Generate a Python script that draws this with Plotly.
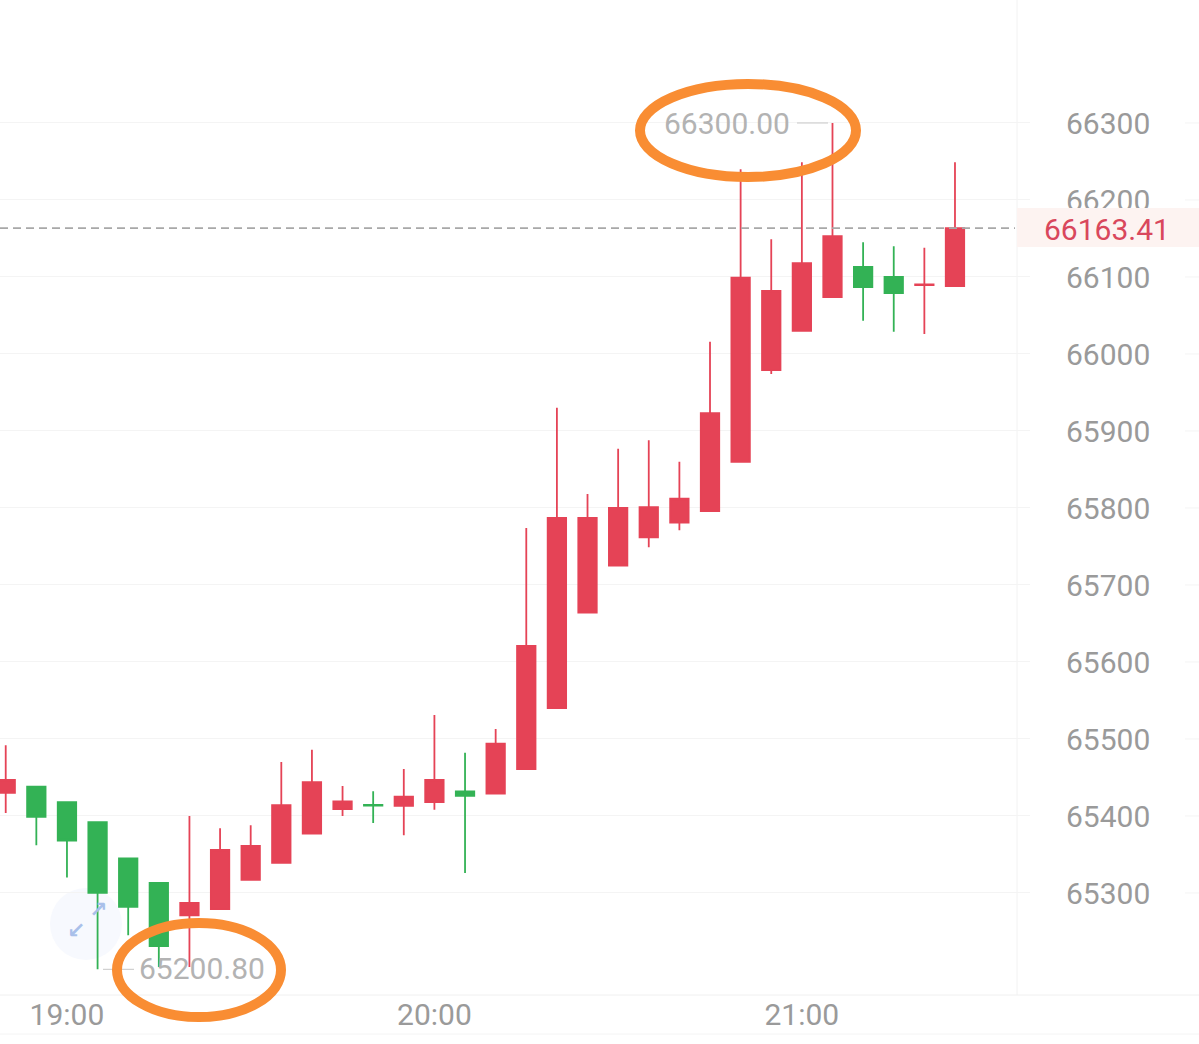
import plotly.graph_objects as go
import pandas as pd

W, H = 1199, 1044
PLOT_R, PLOT_B = 1030, 995

times = pd.date_range("2024-03-14 18:50", periods=32, freq="5min")
opens = [65430, 65438, 65418, 65392, 65345, 65313, 65271, 65279, 65317, 65339, 65377, 65409,
         65414.5, 65413, 65418, 65432, 65429, 65461, 65540, 65664, 65725, 65762, 65781, 65796,
         65860, 65979, 66030, 66074, 66113, 66100, 66089.5, 66088]
highs = [65492, 65438, 65418, 65392, 65345, 65313, 65400, 65384, 65388, 65470, 65486, 65439,
         65432, 65461, 65531, 65482, 65513, 65774, 65930, 65818, 65877, 65888, 65860, 66016,
         66240, 66149, 66249, 66300, 66145, 66140, 66138, 66249]
lows = [65404, 65362, 65320, 65200.8, 65245, 65204, 65204, 65279, 65317, 65339, 65377, 65400,
        65391, 65375, 65408, 65326, 65429, 65461, 65540, 65664, 65725, 65749, 65771, 65796,
        65860, 65974, 66030, 66074, 66043, 66029, 66026, 66088]
closes = [65447, 65399, 65368, 65300, 65282, 65231, 65287, 65356, 65361, 65414, 65444, 65419,
          65413.5, 65425, 65447, 65426, 65494, 65621, 65787, 65787, 65800, 65801, 65812, 65923,
          66099, 66082, 66118, 66153, 66087, 66079, 66090.5, 66163.41]

y_ticks = [65300, 65400, 65500, 65600, 65700, 65800, 65900, 66000, 66100, 66200, 66300]
x_ticks = ["2024-03-14 19:00", "2024-03-14 20:00", "2024-03-14 21:00"]
x_labels = ["19:00", "20:00", "21:00"]
last_price = 66163.41
max_price = 66300.00
min_price = 65200.80

RED = "#e54356"
GREEN = "#33b255"
GRID = "#f4f4f4"
ORANGE = "#f98d33"


def px(x):
    return x / PLOT_R


def py(y):
    return 1 - y / PLOT_B


fig = go.Figure(go.Candlestick(
    x=times, open=opens, high=highs, low=lows, close=closes,
    increasing=dict(line=dict(color=RED, width=1.8), fillcolor=RED),
    decreasing=dict(line=dict(color=GREEN, width=1.8), fillcolor=GREEN),
    whiskerwidth=0, hoverinfo="skip", showlegend=False,
))

shapes = []
# faint zoom button behind the candles
shapes.append(dict(type="circle", xref="paper", yref="paper", layer="below",
                   x0=px(50), x1=px(122), y0=py(960), y1=py(888),
                   fillcolor="#f7f9fe", line_width=0))
# axis frame lines
shapes.append(dict(type="line", xref="paper", yref="paper", layer="below",
                   x0=px(1017), x1=px(1017), y0=py(0), y1=py(995),
                   line=dict(color="#f2f2f2", width=1)))
shapes.append(dict(type="line", xref="paper", yref="paper", layer="below",
                   x0=0, x1=px(W), y0=py(995), y1=py(995),
                   line=dict(color="#f0f0f0", width=1)))
shapes.append(dict(type="line", xref="paper", yref="paper", layer="below",
                   x0=0, x1=px(W), y0=py(1034), y1=py(1034),
                   line=dict(color="#f4f4f4", width=1)))
# short grid stubs right of the labels
for t in y_ticks:
    shapes.append(dict(type="line", xref="paper", yref="y", layer="below",
                       x0=px(1185), x1=px(W), y0=t, y1=t,
                       line=dict(color=GRID, width=1)))
# last price line and tag
shapes.append(dict(type="line", xref="paper", yref="y", layer="above",
                   x0=0, x1=px(1015), y0=last_price, y1=last_price,
                   line=dict(color="#a8a8a8", width=1.6, dash="8px,5px")))
shapes.append(dict(type="rect", xref="paper", yref="paper", layer="above",
                   x0=px(1017), x1=px(W), y0=py(208), y1=py(247),
                   fillcolor="#fdf3f1", line_width=0))
# leader lines for max and min
shapes.append(dict(type="line", xref="paper", yref="y", layer="above",
                   x0=px(797), x1=px(828), y0=max_price, y1=max_price,
                   line=dict(color="#cfcfcf", width=1.2)))
shapes.append(dict(type="line", xref="paper", yref="y", layer="above",
                   x0=px(103), x1=px(134), y0=min_price, y1=min_price,
                   line=dict(color="#cfcfcf", width=1.2)))
# hand drawn rings
shapes.append(dict(type="circle", xref="paper", yref="paper", layer="above",
                   x0=px(640), x1=px(856), y0=py(177), y1=py(84),
                   line=dict(color=ORANGE, width=10)))
shapes.append(dict(type="circle", xref="paper", yref="paper", layer="above",
                   x0=px(117), x1=px(281), y0=py(1017), y1=py(923),
                   line=dict(color=ORANGE, width=10)))

annotations = [
    dict(text=f"{last_price:.2f}", xref="paper", yref="y", x=px(1107), y=last_price,
         xanchor="center", yanchor="middle", showarrow=False, yshift=-1,
         font=dict(family="Roboto", size=30, color="#d9475c")),
    dict(text=f"{max_price:.2f}", xref="paper", yref="y", x=px(727), y=max_price,
         xanchor="center", yanchor="middle", showarrow=False, yshift=-1,
         font=dict(family="Roboto", size=30, color="#b3b3b3")),
    dict(text=f"{min_price:.2f}", xref="paper", yref="y", x=px(202), y=min_price,
         xanchor="center", yanchor="middle", showarrow=False, yshift=1,
         font=dict(family="Roboto", size=30, color="#b3b3b3")),
    dict(text="<b>↗</b>", xref="paper", yref="paper", x=px(98), y=py(909),
         xanchor="center", yanchor="middle", showarrow=False,
         font=dict(family="DejaVu Sans", size=22, color="#a9c0ea")),
    dict(text="<b>↙</b>", xref="paper", yref="paper", x=px(76), y=py(930),
         xanchor="center", yanchor="middle", showarrow=False,
         font=dict(family="DejaVu Sans", size=22, color="#a9c0ea")),
]

fig.update_layout(
    width=W, height=H,
    margin=dict(l=0, r=W - PLOT_R, t=0, b=H - PLOT_B),
    paper_bgcolor="white", plot_bgcolor="white",
    boxgap=0.14,
    showlegend=False,
    shapes=shapes,
    annotations=annotations,
    xaxis=dict(
        type="date",
        range=["2024-03-14 18:49:04", "2024-03-14 21:37:15"],
        rangeslider=dict(visible=False),
        tickmode="array", tickvals=x_ticks, ticktext=x_labels,
        tickangle=0, ticks="", showgrid=False, zeroline=False, showline=False,
        automargin=False, ticklabelstandoff=-1,
        tickfont=dict(family="Roboto", size=30, color="#9a9a9a"),
    ),
    yaxis=dict(
        side="right",
        range=[65167.5, 66459.7],
        tickmode="array", tickvals=y_ticks,
        ticktext=[str(t) for t in y_ticks],
        ticks="", showgrid=True, gridcolor=GRID, gridwidth=1,
        zeroline=False, showline=False,
        automargin=False, ticklabelstandoff=35, ticklabelshift=1,
        tickfont=dict(family="Roboto", size=30, color="#9a9a9a"),
    ),
)

# the page's default body margin would shift everything by 8px
fig.write_html("out.html", config=dict(displayModeBar=False),
               post_script="document.body.style.margin='0';")
